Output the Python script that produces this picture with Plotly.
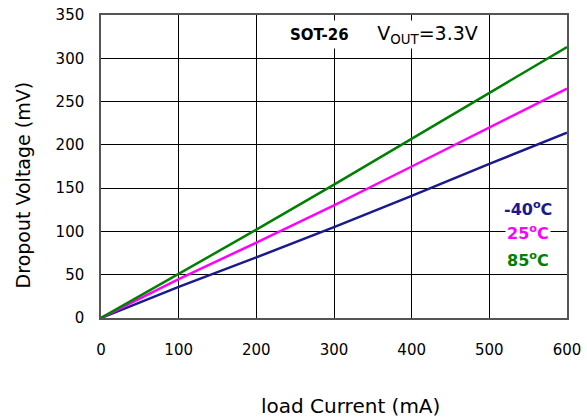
import plotly.graph_objects as go

load_ma = [0, 100, 200, 300, 400, 500, 600]
v_m40 = [0, 36, 70, 105, 141, 178, 214]
v_25 = [0, 45, 87, 130, 175, 220, 265]
v_85 = [0, 51, 102, 154, 207, 259, 313]

series = [
    ("-40", v_m40, "#1a1a8c"),
    ("25", v_25, "#ff00ff"),
    ("85", v_85, "#008000"),
]

fig = go.Figure()
for name, vals, col in series:
    fig.add_trace(go.Scatter(x=load_ma, y=vals, mode="lines", name=name,
                             line=dict(color=col, width=2.5), showlegend=False))

font = "DejaVu Sans"
fig.update_layout(
    width=587, height=419,
    margin=dict(l=101, r=20, t=15, b=101, autoexpand=False),
    paper_bgcolor="white", plot_bgcolor="white",
    font=dict(family=font, size=15, color="black"),
)
fig.update_xaxes(range=[0, 600], tickvals=[0, 100, 200, 300, 400, 500, 600],
                 showgrid=True, gridcolor="black", gridwidth=1.3,
                 showline=True, linecolor="#555555", linewidth=1.5, mirror=True,
                 zeroline=False, ticks="", ticklabelstandoff=17, tickfont=dict(size=15))
fig.update_yaxes(range=[0, 350], tickvals=list(range(0, 351, 50)),
                 showgrid=True, gridcolor="black", gridwidth=1.3,
                 showline=True, linecolor="#555555", linewidth=1.5, mirror=True,
                 zeroline=False, ticks="", ticklabelstandoff=12, tickfont=dict(size=15))

# axis titles
fig.add_annotation(text="Dropout Voltage (mV)", xref="paper", yref="paper",
                   x=-0.168, y=0.44, textangle=-90, showarrow=False,
                   font=dict(size=19, family=font), xanchor="center", yanchor="middle")
fig.add_annotation(text="load Current (mA)", xref="paper", yref="paper",
                   x=0.535, y=-0.29, showarrow=False,
                   font=dict(size=20, family=font), xanchor="center", yanchor="middle")

# header label
fig.add_annotation(text="<b>SOT-26</b>      <span style='font-size:19px'>V<sub>OUT</sub>=3.3V</span>",
                   xref="x", yref="y",
                   x=364, y=327, showarrow=False, bgcolor="white",
                   font=dict(size=15, family=font), xanchor="center", yanchor="middle")

# legend labels
legend_y = [127, 99, 68]
for (name, vals, col), ly in zip(series, legend_y):
    fig.add_annotation(text="<b>%s<sup>o</sup>C</b>" % name, xref="x", yref="y",
                       x=550, y=ly, showarrow=False, bgcolor="white",
                       font=dict(size=16, family=font, color=col),
                       xanchor="center", yanchor="middle")

fig.write_html("out.html", config={"displayModeBar": False},
               post_script="document.body.style.margin='0';")
